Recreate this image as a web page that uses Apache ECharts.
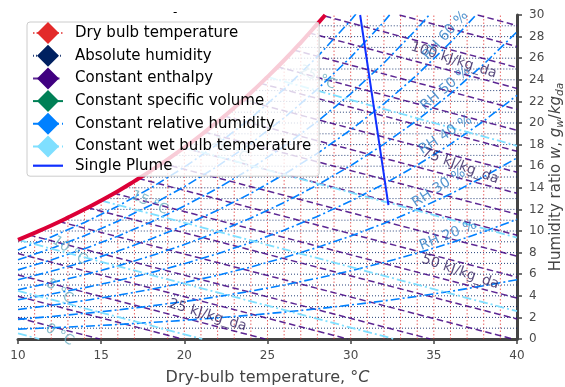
<!DOCTYPE html>
<html>
<head>
<meta charset="utf-8">
<script src="https://cdn.jsdelivr.net/npm/echarts@6/dist/echarts.min.js"></script>
<style>
  html, body { margin: 0; padding: 0; background: #ffffff; }
  #chart { width: 565px; height: 387px; }
</style>
</head>
<body>
<div id="chart"></div>
<script>
// Psychrometric chart (dry-bulb temperature vs. humidity ratio)

// Saturation curve (100 % RH)
const satT = [10, 11, 12, 13, 14, 15, 16, 17, 18, 19, 20, 21, 22, 23, 24, 25, 26, 27, 28, 28.47];
const satW = [9.18, 9.83, 10.51, 11.24, 12.01, 12.83, 13.69, 14.62, 15.59, 16.63, 17.73, 18.89, 20.12, 21.42, 22.80, 24.27, 25.81, 27.45, 29.18, 30.0];

// Dry-bulb grid lines: temperature and the humidity where each meets saturation / top
const dryBulbT = [11, 12, 13, 14, 15, 16, 17, 18, 19, 20, 21, 22, 23, 24, 25, 26, 27, 28, 29, 30, 31, 32, 33, 34, 35, 36, 37, 38, 39];
const dryBulbTop = [9.83, 10.51, 11.24, 12.01, 12.83, 13.69, 14.62, 15.59, 16.63, 17.73, 18.89, 20.12, 21.42, 22.80, 24.27, 25.81, 27.45, 29.18, 30, 30, 30, 30, 30, 30, 30, 30, 30, 30, 30];

// Absolute humidity grid lines: humidity and the temperature where each leaves saturation
const humidW = [1, 2, 3, 4, 5, 6, 7, 8, 9, 10, 11, 12, 13, 14, 15, 16, 17, 18, 19, 20, 21, 22, 23, 24, 25, 26, 27, 28, 29];
const humidStartT = [10, 10, 10, 10, 10, 10, 10, 10, 10, 11.25, 12.67, 13.99, 15.20, 16.33, 17.39, 18.39, 19.34, 20.23, 21.09, 21.90, 22.68, 23.42, 24.14, 24.82, 25.47, 26.12, 26.73, 27.32, 27.90];

// Constant enthalpy lines (kJ/kg_da): start and end points [T, w]
const hLevels = [15, 20, 25, 30, 35, 40, 45, 50, 55, 60, 65, 70, 75, 80, 85, 90, 95, 100, 105, 110, 115];
const hStart = [[10, 1.96], [10, 3.95], [10, 5.93], [10, 7.91], [10.67, 9.63], [12.48, 10.87], [14.18, 12.16], [15.76, 13.50], [17.24, 14.87], [18.63, 16.27], [19.97, 17.69], [21.20, 19.16], [22.39, 20.64], [23.51, 22.14], [24.58, 23.67], [25.60, 25.21], [26.58, 26.76], [27.51, 28.34], [28.45, 29.90], [32.94, 30], [37.64, 30]];
const hEnd = [[14.91, 0], [19.88, 0], [24.85, 0], [29.82, 0], [34.79, 0], [39.76, 0], [40, 1.85], [40, 3.79], [40, 5.73], [40, 7.67], [40, 9.61], [40, 11.55], [40, 13.49], [40, 15.44], [40, 17.38], [40, 19.32], [40, 21.26], [40, 23.20], [40, 25.14], [40, 27.08], [40, 29.02]];

// Constant relative humidity curves, humidity ratio at each temperature of rhT
const rhT = [10, 12, 14, 16, 18, 20, 22, 24, 26, 28, 30, 32, 34, 36, 38, 40];
const rh10 = [0.91, 1.04, 1.18, 1.34, 1.53, 1.73, 1.96, 2.21, 2.49, 2.80, 3.15, 3.53, 3.95, 4.41, 4.93, 5.49];
const rh20 = [1.82, 2.08, 2.37, 2.69, 3.06, 3.47, 3.92, 4.43, 5.00, 5.63, 6.32, 7.09, 7.95, 8.89, 9.93, 11.08];
const rh30 = [2.73, 3.12, 3.56, 4.05, 4.60, 5.22, 5.90, 6.67, 7.53, 8.48, 9.53, 10.70, 12.00, 13.43, 15.02, 16.77];
const rh40 = [3.64, 4.16, 4.75, 5.41, 6.14, 6.97, 7.90, 8.93, 10.08, 11.35, 12.77, 14.35, 16.10, 18.04, 20.18, 22.56];
const rh50 = [4.56, 5.21, 5.95, 6.77, 7.70, 8.74, 9.90, 11.20, 12.64, 14.26, 16.05, 18.04, 20.26, 22.71, 25.44, 28.45];
const rh60 = [5.48, 6.27, 7.15, 8.14, 9.26, 10.52, 11.92, 13.49, 15.24, 17.19, 19.36, 21.78, 24.47, 27.46, 30.78];
const rh70 = [6.40, 7.32, 8.36, 9.52, 10.83, 12.31, 13.95, 15.79, 17.85, 20.14, 22.70, 25.56, 28.74, 32.27];
const rh80 = [7.33, 8.38, 9.57, 10.91, 12.41, 14.10, 16.00, 18.11, 20.48, 23.13, 26.08, 29.38, 33.06];
const rh90 = [8.25, 9.45, 10.79, 12.30, 14.00, 15.91, 18.05, 20.45, 23.14, 26.14, 29.50, 33.25];
const rhCurves = [rh10, rh20, rh30, rh40, rh50, rh60, rh70, rh80, rh90];

// Constant wet-bulb temperature lines (°C): start and end points [T, w]
const wbLevels = [0, 5, 10, 15, 20, 25];
const wbStart = [[10, 0.51], [10, 4.46], [10, 9.18], [15, 12.82], [20, 17.73], [25, 24.27]];
const wbEnd = [[11.28, 0], [21.08, 0], [32.61, 0], [40, 2.57], [40, 9.39], [40, 17.89]];

// Single plume path
const plumeT = [30.57, 32.27];
const plumeW = [30, 12.4];

// In-chart labels
const hLabelText = ['25 kJ/kg_da', '50 kJ/kg_da', '75 kJ/kg_da', '100 kJ/kg_da'];
const hLabelT = [21.4, 36.6, 36.6, 36.2];
const hLabelW = [2.2, 6.2, 16.0, 25.8];
const hLabelAngle = [-17, -19, -20, -18];

const rhLabelText = ['RH 20 %', 'RH 30 %', 'RH 40 %', 'RH 50 %', 'RH 60 %'];
const rhLabelT = [35.86, 35.3, 35.7, 35.7, 35.7];
const rhLabelW = [9.6, 14.0, 18.9, 23.2, 28.1];
const rhLabelAngle = [22, 33, 33, 40, 48];

const wbLabelText = ['0 °C', '5 °C', '10 °C', '15 °C', '20 °C', '25 °C'];
const wbLabelT = [12.5, 12.5, 13.1, 17.9, 22.75, 28.0];
const wbLabelW = [0.37, 4.4, 8.2, 12.6, 17.5, 24.2];
const wbLabelAngle = [-30, -38, -35, -25, -28, -25];

const FONT = 'DejaVu Sans';
const C_DRY = '#e32a2a';
const C_DRY_LINE = 'rgba(225,45,45,0.75)';
const C_HUM = '#002060';
const C_H = '#400080';
const C_V = '#008056';
const C_RH = '#0080ff';
const C_WB = '#7fdfff';
const C_SAT = '#dc0037';
const C_PLUME = '#1030ff';

const series = [];

function addLine(name, data, color, lineStyle, z) {
  series.push({
    type: 'line',
    name: name,
    data: data,
    color: color,
    symbol: 'diamond',
    showSymbol: false,
    silent: true,
    animation: false,
    clip: true,
    z: z,
    lineStyle: Object.assign({ color: color }, lineStyle)
  });
}

// dry-bulb verticals
dryBulbT.forEach((t, i) => {
  addLine('Dry bulb temperature', [[t, 0], [t, dryBulbTop[i]]], C_DRY,
    { width: 1, type: [1.5, 2], color: C_DRY_LINE }, 1);
});
// absolute humidity horizontals
humidW.forEach((w, i) => {
  addLine('Absolute humidity', [[humidStartT[i], w], [40, w]], C_HUM,
    { width: 1, type: [1, 2], opacity: 0.85 }, 1);
});
// enthalpy
hLevels.forEach((h, i) => {
  addLine('Constant enthalpy', [hStart[i], hEnd[i]], C_H,
    { width: 1.5, type: [6.5, 3.5], opacity: 0.85 }, 2);
});
// specific volume (legend entry)
addLine('Constant specific volume', [], C_V, { width: 1.5, type: 'solid' }, 2);
// relative humidity
rhCurves.forEach((arr) => {
  addLine('Constant relative humidity', arr.map((w, i) => [rhT[i], w]), C_RH,
    { width: 1.6, type: [9, 3, 2, 3] }, 2);
});
// wet bulb
wbLevels.forEach((lv, i) => {
  addLine('Constant wet bulb temperature', [wbStart[i], wbEnd[i]], C_WB,
    { width: 1.8, type: [9, 3, 2, 3] }, 2);
});
// saturation
series.push({
  type: 'line', name: 'Saturation', data: satT.map((t, i) => [t, satW[i]]),
  showSymbol: false, silent: true, animation: false, smooth: true, z: 3,
  lineStyle: { color: C_SAT, width: 4 }
});
// plume
addLine('Single Plume', plumeT.map((t, i) => [t, plumeW[i]]), C_PLUME,
  { width: 2, type: 'solid' }, 3);

function addLabels(name, texts, ts, ws, angles, color) {
  series.push({
    type: 'scatter', name: name, silent: true, animation: false, z: 3,
    symbolSize: 0,
    data: texts.map((txt, i) => ({
      value: [ts[i], ws[i]],
      label: { show: true, formatter: txt, rotate: angles[i], position: 'inside',
        color: color, fontSize: 14, fontFamily: FONT }
    }))
  });
}
addLabels('hLabels', hLabelText, hLabelT, hLabelW, hLabelAngle, '#2e1c5c');
addLabels('rhLabels', rhLabelText, rhLabelT, rhLabelW, rhLabelAngle, '#2b7cc4');
addLabels('wbLabels', wbLabelText, wbLabelT, wbLabelW, wbLabelAngle, '#6aaec0');

const chart = echarts.init(document.getElementById('chart'), null, { renderer: 'canvas' });
chart.setOption({
  animation: false,
  backgroundColor: '#ffffff',
  title: { text: '-', left: 168, top: 2, textStyle: { fontSize: 12, fontWeight: 'normal', color: '#000', fontFamily: FONT } },
  grid: { left: 18, right: 48, top: 15, bottom: 48, containLabel: false, outerBoundsMode: 'none' },
  legend: {
    orient: 'vertical', left: 27, top: 22,
    itemWidth: 30, itemHeight: 27.5, itemGap: 0.7,
    padding: [0, 8, 3, 5],
    backgroundColor: 'rgba(255,255,255,0.8)',
    borderColor: '#cccccc', borderWidth: 1, borderRadius: 3,
    textStyle: { fontSize: 15, color: '#000', fontFamily: FONT, padding: [0, 0, 0, 7] },
    data: [
      'Dry bulb temperature',
      'Absolute humidity',
      'Constant enthalpy',
      'Constant specific volume',
      'Constant relative humidity',
      'Constant wet bulb temperature',
      { name: 'Single Plume', icon: 'path://M0,0L30,0L30,2.2L0,2.2Z' }
    ]
  },
  xAxis: {
    type: 'value', min: 10, max: 40, interval: 5,
    name: 'Dry-bulb temperature, °{i|C}', nameLocation: 'middle', nameGap: 31, nameMoveOverlap: false,
    nameTextStyle: { fontSize: 16, color: '#444', fontFamily: FONT,
      rich: { i: { fontStyle: 'italic', fontSize: 16, color: '#444', fontFamily: FONT } } },
    axisLine: { show: true, onZero: false, lineStyle: { color: '#444', width: 3 } },
    axisTick: { show: true, length: 5, lineStyle: { color: '#444', width: 1.5 } },
    axisLabel: { color: '#4a4a4a', fontSize: 12, margin: 11, fontFamily: FONT },
    splitLine: { show: false }
  },
  yAxis: {
    type: 'value', position: 'right', min: 0, max: 30, interval: 2,
    name: 'Humidity ratio {i|w}, {i|g}{s|w}/{i|kg}{s|da}', nameLocation: 'middle', nameGap: 30, nameRotate: 90,
    nameMoveOverlap: false,
    nameTextStyle: { fontSize: 15, color: '#444', fontFamily: FONT,
      rich: {
        i: { fontStyle: 'italic', fontSize: 15, color: '#444', fontFamily: FONT },
        s: { fontStyle: 'italic', fontSize: 10.5, color: '#444', fontFamily: FONT, padding: [8, 0, 0, 0] }
      } },
    axisLine: { show: true, onZero: false, lineStyle: { color: '#444', width: 3 } },
    axisTick: { show: true, length: 5, lineStyle: { color: '#444', width: 1.5 } },
    axisLabel: { color: '#4a4a4a', fontSize: 12, margin: 12, fontFamily: FONT },
    splitLine: { show: false }
  },
  series: series
});
</script>
</body>
</html>
